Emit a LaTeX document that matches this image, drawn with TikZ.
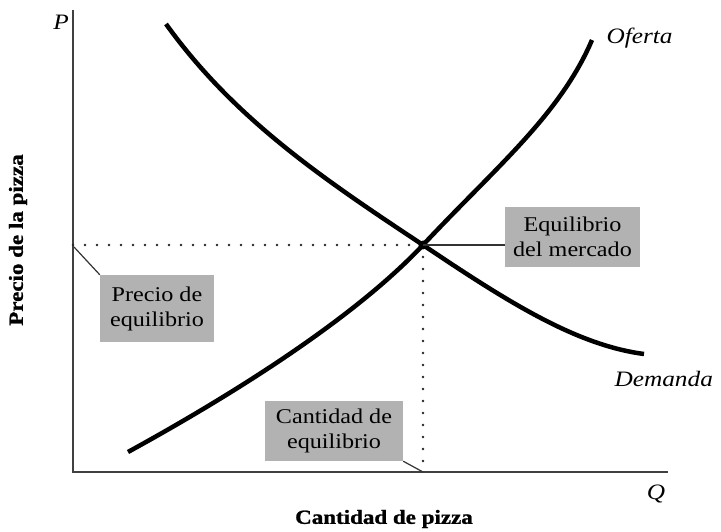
\documentclass[tikz,border=0pt]{standalone}
\usepackage{fontspec}
\setmainfont[FakeStretch=1.15]{Liberation Serif}
\newfontfamily\heavyfont[FakeStretch=1.15,FakeBold=1.2]{Liberation Serif Bold}
\begin{document}
\begin{tikzpicture}[x=1pt,y=-1pt,
  axis/.style={line width=1.5pt,draw=black!75},
  curve/.style={line width=4.5pt},
  dots/.style={line width=2.6pt,line cap=round,dash pattern=on 0pt off 12pt,draw=black!85},
  lbox/.style={fill=black!30,inner sep=0pt,align=center,font=\fontsize{21}{25}\selectfont},
  leader/.style={line width=1.2pt,draw=black!80},
  itlab/.style={font=\fontsize{22}{24}\selectfont\itshape},
  axlab/.style={font=\fontsize{20}{22}\heavyfont}]
\useasboundingbox (0,0) rectangle (721,532);
\coordinate (O) at (73,472);
\coordinate (Ytop) at (73,10);
\coordinate (Xend) at (668,472);
\draw[axis] (Ytop) -- (O) -- (Xend);
\node[itlab] (P) at (61,22) {P};
\node[itlab] (Q) at (656,494) {Q};
\coordinate (E) at (423,245);
\coordinate (Ey) at (73,245);
\coordinate (Ex) at (423,472);
\draw[dots] (Ey) -- (E);
\draw[dots] (E) -- (Ex);
% supply
\draw[curve] (128,452) .. controls (250,385) and (360,312) .. (E)
  .. controls (495,168) and (560,115) .. (592,40);
% demand
\draw[curve] (166,24) .. controls (235,120) and (325,180) .. (E)
  .. controls (505,300) and (575,345) .. (644,354);
\fill (E) circle (4.5);
\node[itlab,anchor=west] (of) at (603,38) {Oferta};
\node[itlab,anchor=west] (de) at (611,379) {Demanda};
\node[lbox,minimum width=135pt,minimum height=60pt] (eqm) at (572.5,237) {Equilibrio\\del mercado};
\draw[leader] (E) -- (E -| eqm.west);
\node[lbox,minimum width=114pt,minimum height=67pt] (peq) at (157,308.5) {Precio de\\equilibrio};
\draw[leader] (74,247) -- (peq.north west);
\node[lbox,minimum width=138pt,minimum height=60pt] (qeq) at (334,431) {Cantidad de\\equilibrio};
\draw[leader] (qeq.south east) -- (Ex);
\node[axlab,rotate=90] (ylab) at (18,240) {Precio de la pizza};
\node[axlab] (xlab) at (384,519) {Cantidad de pizza};
\end{tikzpicture}
\end{document}
